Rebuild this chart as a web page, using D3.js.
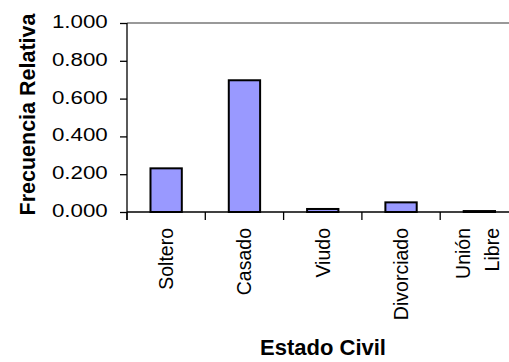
<!DOCTYPE html>
<html><head><meta charset="utf-8">
<script src="https://cdn.jsdelivr.net/npm/d3@7"></script>
<style>
html,body{margin:0;padding:0;background:#fff;}
svg{display:block;font-family:Arial,"Liberation Sans",sans-serif;}
</style></head>
<body>
<script>
const categories = ["Soltero", "Casado", "Viudo", "Divorciado", "Unión Libre"];
const values = [0.231, 0.697, 0.016, 0.051, 0.005];
const yTicks = [0, 0.2, 0.4, 0.6, 0.8, 1.0];
const xTitle = "Estado Civil";
const yTitle = "Frecuencia Relativa";

const W = 509, H = 362;
const m = {left: 127, top: 23, bottom: 212};
const bandW = 78.3;
const svg = d3.select("body").append("svg").attr("width", W).attr("height", H);

const x = d3.scaleBand().domain(categories)
  .range([m.left, m.left + bandW * categories.length]).paddingInner(0.6).paddingOuter(0.3);
const y = d3.scaleLinear().domain([0, 1]).range([m.bottom, m.top]);

// top plot border
svg.append("line").attr("x1", m.left).attr("x2", W).attr("y1", m.top).attr("y2", m.top)
  .attr("stroke", "#999").attr("stroke-width", 2);

// bars
svg.selectAll("rect.bar").data(values).join("rect").attr("class", "bar")
  .attr("x", (d, i) => x(categories[i]))
  .attr("width", x.bandwidth())
  .attr("y", d => y(d))
  .attr("height", d => y(0) - y(d))
  .attr("fill", "#9999FF").attr("stroke", "#000").attr("stroke-width", 2);

// y axis
const tickLen = 7;
const sx = 1.2;
const yAxis = d3.axisLeft(y).tickValues(yTicks).tickFormat(d3.format(".3f")).tickSize(tickLen);
const gy = svg.append("g").attr("transform", `translate(${m.left},0)`).call(yAxis);
gy.select(".domain").attr("stroke", "#000").attr("stroke-width", 1.3).attr("d", `M0,${m.top}V${m.bottom + 8}`);
gy.selectAll(".tick line").attr("stroke", "#000").attr("stroke-width", 1.3);
gy.selectAll(".tick text").attr("font-size", "18.6px").attr("fill", "#000")
  .attr("font-family", "Arial, 'Liberation Sans', sans-serif")
  .attr("x", -19.3 / sx).attr("dy", "0.24em")
  .attr("transform", `scale(${sx},1)`);

// x axis baseline and category ticks
const xLinear = d3.scaleLinear().domain([0, categories.length]).range([m.left, m.left + bandW * categories.length]);
svg.append("line").attr("x1", m.left).attr("x2", W).attr("y1", m.bottom).attr("y2", m.bottom)
  .attr("stroke", "#000").attr("stroke-width", 1.3);
svg.selectAll("line.ctick").data(d3.range(categories.length + 1)).join("line").attr("class", "ctick")
  .attr("x1", d => xLinear(d)).attr("x2", d => xLinear(d))
  .attr("y1", m.bottom).attr("y2", m.bottom + 8)
  .attr("stroke", "#000").attr("stroke-width", 1.3);

// category labels (rotated)
const labelTop = 228;
categories.forEach((c, i) => {
  const cx = x(c) + x.bandwidth() / 2;
  const words = c.split(" ");
  const n = words.length;
  words.forEach((w, k) => {
    const off = (k - (n - 1) / 2) * 29 - (n > 1 ? 2 : 0);
    svg.append("text")
      .attr("transform", `translate(${cx + off},${labelTop}) rotate(-90)`)
      .attr("text-anchor", "end").attr("dy", "0.35em")
      .attr("font-size", "19.5px").attr("fill", "#000")
      .text(w);
  });
});

// axis titles
svg.append("text").attr("x", 323).attr("y", 355).attr("text-anchor", "middle")
  .attr("font-size", "22px").attr("font-weight", "bold").text(xTitle);
svg.append("text").attr("transform", `translate(35,114.5) rotate(-90)`).attr("text-anchor", "middle")
  .attr("font-size", "21.5px").attr("font-weight", "bold").text(yTitle);
</script>
</body></html>
